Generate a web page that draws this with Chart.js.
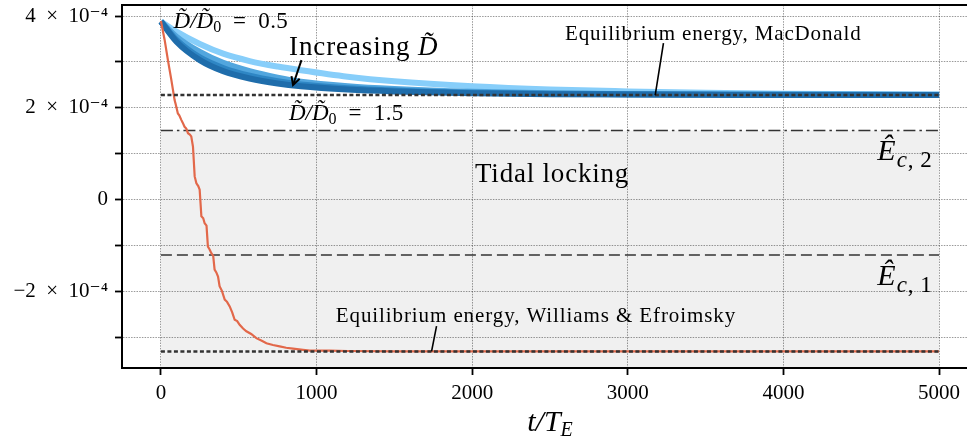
<!DOCTYPE html>
<html>
<head>
<meta charset="utf-8">
<script src="https://cdn.jsdelivr.net/npm/chart.js@4.4.0/dist/chart.umd.min.js"></script>
<style>
html, body { margin: 0; padding: 0; background: #fff; overflow: hidden; }
#wrap { width: 967px; height: 444px; overflow: hidden; }
</style>
</head>
<body>
<div id="wrap"><canvas id="c" width="1000" height="444"></canvas></div>
<script>
// energies are in units of 1e-4
const tBlue = [0, 100, 250, 400, 570, 750, 900, 1200, 1500, 2000, 2500, 3000, 3500, 4000, 4500, 5000];
const eD05 = [3.88, 3.66, 3.39, 3.18, 3.02, 2.90, 2.82, 2.68, 2.58, 2.47, 2.40, 2.36, 2.33, 2.31, 2.30, 2.29];
const eD08 = [3.88, 3.55, 3.22, 2.98, 2.80, 2.66, 2.57, 2.47, 2.41, 2.35, 2.32, 2.30, 2.29, 2.29, 2.285, 2.285];
const eD12 = [3.88, 3.48, 3.10, 2.87, 2.70, 2.58, 2.51, 2.43, 2.38, 2.33, 2.31, 2.30, 2.29, 2.285, 2.285, 2.28];
const eD15 = [3.88, 3.44, 3.04, 2.80, 2.64, 2.53, 2.47, 2.40, 2.36, 2.32, 2.30, 2.29, 2.285, 2.28, 2.28, 2.28];

const tRed = [0, 24, 45, 67, 88, 95, 109, 118, 131, 140, 152, 163, 174, 186, 195, 206, 217, 228, 240, 249,
  260, 272, 281, 293, 302, 313, 324, 336, 345, 356, 367, 377, 392, 410, 425, 442, 458, 474, 490, 506,
  528, 549, 580, 613, 645, 678, 720, 763, 805, 849, 900, 956, 1020, 1085, 1200, 1500, 2000, 3000, 4000, 5000];
const eRed = [3.89, 3.48, 3.04, 2.61, 2.17, 2.08, 1.88, 1.84, 1.74, 1.68, 1.59, 1.55, 1.45, 1.42, 1.38, 1.16, 0.51, 0.36, 0.30, 0.22,
  -0.36, -0.40, -0.51, -0.56, -1.02, -1.08, -1.16, -1.22, -1.52, -1.58, -1.67, -1.88, -1.98, -2.17, -2.22, -2.32, -2.45, -2.61, -2.64, -2.72,
  -2.80, -2.86, -2.92, -3.01, -3.06, -3.12, -3.16, -3.19, -3.22, -3.24, -3.26, -3.28, -3.28, -3.28, -3.29, -3.30, -3.30, -3.30, -3.30, -3.30];

const tSpan = [0, 5000];
const eqMacDonald = 2.28;
const eqWilliams = -3.30;
const eC2 = 1.51;
const eC1 = -1.20;

const xTicks = [0, 1000, 2000, 3000, 4000, 5000];
const yTicks = [-3, -2, -1, 0, 1, 2, 3, 4];
const yTickLabels = ['', '\u22122\u2002\u00d7\u200210\u207b\u2074', '', '0', '', '2\u2002\u00d7\u200210\u207b\u2074', '', '4\u2002\u00d7\u200210\u207b\u2074'];

const serif = '"Liberation Serif", "DejaVu Serif", serif';
const toXY = (ts, es) => ts.map((t, i) => ({ x: t, y: es[i] }));
const flat = v => tSpan.map(t => ({ x: t, y: v }));

// parts: [text, size, style, dy, letterSpacing]
function textRuns(ctx, x, y, parts) {
  for (const p of parts) {
    ctx.font = (p[2] ? p[2] + ' ' : '') + p[1] + 'px ' + serif;
    ctx.letterSpacing = (p[4] || 0) + 'px';
    ctx.fillText(p[0], x, y + (p[3] || 0));
    x += ctx.measureText(p[0]).width;
  }
  ctx.letterSpacing = '0px';
}

const annotations = {
  id: 'annotations',
  afterDraw(chart) {
    const { ctx, chartArea: a, scales: { x, y } } = chart;
    const px = v => x.getPixelForValue(v), py = v => y.getPixelForValue(v);
    ctx.save();
    // top spine
    ctx.strokeStyle = '#000';
    ctx.lineWidth = 2;
    ctx.beginPath();
    ctx.moveTo(a.left, a.top);
    ctx.lineTo(a.right, a.top);
    ctx.stroke();

    ctx.fillStyle = '#000';
    ctx.textBaseline = 'alphabetic';
    ctx.textAlign = 'left';
    const ratio = v => [['D\u0303/D\u0303', 23, 'italic'], ['0', 16, '', 4], ['\u2002=\u2002' + v, 23, '', 0, 0.4]];
    textRuns(ctx, px(81), py(3.74), ratio('0.5'));
    textRuns(ctx, px(823), py(1.74), ratio('1.5'));
    textRuns(ctx, px(823), py(3.15), [['Increasing ', 27, '', 0, 0.9], ['D\u0303', 27, 'italic']]);
    textRuns(ctx, px(2597), py(3.48), [['Equilibrium energy, MacDonald', 21, '', 0, 0.85]]);
    textRuns(ctx, px(1124), py(-2.65), [['Equilibrium energy, Williams & Efroimsky', 21, '', 0, 0.9]]);
    textRuns(ctx, px(2018), py(0.39), [['Tidal locking', 27, '', 0, 0.8]]);
    const ec = n => [['\u00ca', 30, 'italic', 0, 1], ['c', 23, 'italic', 7, 1], [',\u2009' + n, 23, '', 7, 1]];
    textRuns(ctx, px(4603), py(0.87), ec('2'));
    textRuns(ctx, px(4603), py(-1.85), ec('1'));

    // leader lines
    ctx.lineWidth = 1.6;
    ctx.beginPath();
    ctx.moveTo(px(3229), py(3.41)); ctx.lineTo(px(3176), py(2.28));
    ctx.moveTo(px(1771), py(-2.75)); ctx.lineTo(px(1739), py(-3.30));
    ctx.stroke();

    // arrow "Increasing D"
    const x0 = px(903), y0 = py(3.04), x1 = px(849), y1 = py(2.50);
    ctx.lineWidth = 2;
    ctx.beginPath();
    ctx.moveTo(x0, y0); ctx.lineTo(x1, y1);
    ctx.stroke();
    const ang = Math.atan2(y1 - y0, x1 - x0);
    ctx.beginPath();
    ctx.moveTo(x1 - 9 * Math.cos(ang - 0.5), y1 - 9 * Math.sin(ang - 0.5));
    ctx.lineTo(x1, y1);
    ctx.lineTo(x1 - 9 * Math.cos(ang + 0.5), y1 - 9 * Math.sin(ang + 0.5));
    ctx.stroke();

    // x axis title t/T_E
    ctx.font = 'italic 30px ' + serif;
    const w1 = ctx.measureText('t/T').width;
    ctx.font = 'italic 20px ' + serif;
    const w2 = ctx.measureText('E').width;
    const cx = (a.left + a.right) / 2 - (w1 + w2) / 2;
    textRuns(ctx, cx, a.bottom + 63, [['t/T', 30, 'italic'], ['E', 20, 'italic', 5]]);
    ctx.restore();
  }
};

const gridOpts = { color: 'rgba(0,0,0,0.5)', lineWidth: 0.8, tickColor: '#000', tickWidth: 1.8, tickLength: 7 };
const borderOpts = { color: '#000', width: 2, dash: [1.5, 1.2] };

new Chart(document.getElementById('c'), {
  type: 'line',
  data: {
    datasets: [
      { data: flat(eC2), borderColor: '#333', borderWidth: 1.6, borderDash: [12, 4, 2.5, 4],
        fill: 'start', backgroundColor: 'rgba(0,0,0,0.06)', order: 10 },
      { data: flat(eC1), borderColor: '#333', borderWidth: 1.6, borderDash: [11, 5], fill: false, order: 9 },
      { data: toXY(tBlue, eD05), borderColor: '#87cefa', borderWidth: 6, cubicInterpolationMode: 'monotone', order: 8 },
      { data: toXY(tBlue, eD08), borderColor: '#52a6de', borderWidth: 6, cubicInterpolationMode: 'monotone', order: 7 },
      { data: toXY(tBlue, eD12), borderColor: '#2f86c4', borderWidth: 6, cubicInterpolationMode: 'monotone', order: 6 },
      { data: toXY(tBlue, eD15), borderColor: '#1f6dab', borderWidth: 6, cubicInterpolationMode: 'monotone', order: 5 },
      { data: toXY(tRed, eRed), borderColor: '#e2684a', borderWidth: 2.2, order: 2 },
      { data: flat(eqMacDonald), borderColor: '#333', borderWidth: 2.6, borderDash: [4, 2.5], order: 1 },
      { data: flat(eqWilliams), borderColor: '#333', borderWidth: 2.6, borderDash: [4, 2.5], order: 1 }
    ]
  },
  options: {
    responsive: false,
    animation: false,
    layout: { padding: { left: 0, right: 22, top: 5, bottom: 0 } },
    elements: { point: { radius: 0 }, line: { tension: 0, fill: false } },
    plugins: { legend: { display: false }, tooltip: { enabled: false } },
    scales: {
      x: {
        type: 'linear', min: -250, max: 5250,
        afterBuildTicks: s => { s.ticks = xTicks.map(v => ({ value: v })); },
        afterFit: s => { s.height = 76; s.paddingLeft = 0; s.paddingRight = 0; },
        ticks: { color: '#000', font: { family: serif, size: 21 }, padding: 6, maxRotation: 0,
          callback: v => String(v) },
        grid: gridOpts, border: borderOpts
      },
      y: {
        type: 'linear', min: -3.66, max: 4.24,
        afterBuildTicks: s => { s.ticks = yTicks.map(v => ({ value: v })); },
        afterFit: s => { s.width = 122; s.paddingTop = 0; s.paddingBottom = 0; },
        ticks: { color: '#000', font: { family: serif, size: 21 }, padding: 7,
          callback: v => yTickLabels[yTicks.indexOf(v)] },
        grid: gridOpts, border: borderOpts
      }
    }
  },
  plugins: [annotations]
});
</script>
</body>
</html>
